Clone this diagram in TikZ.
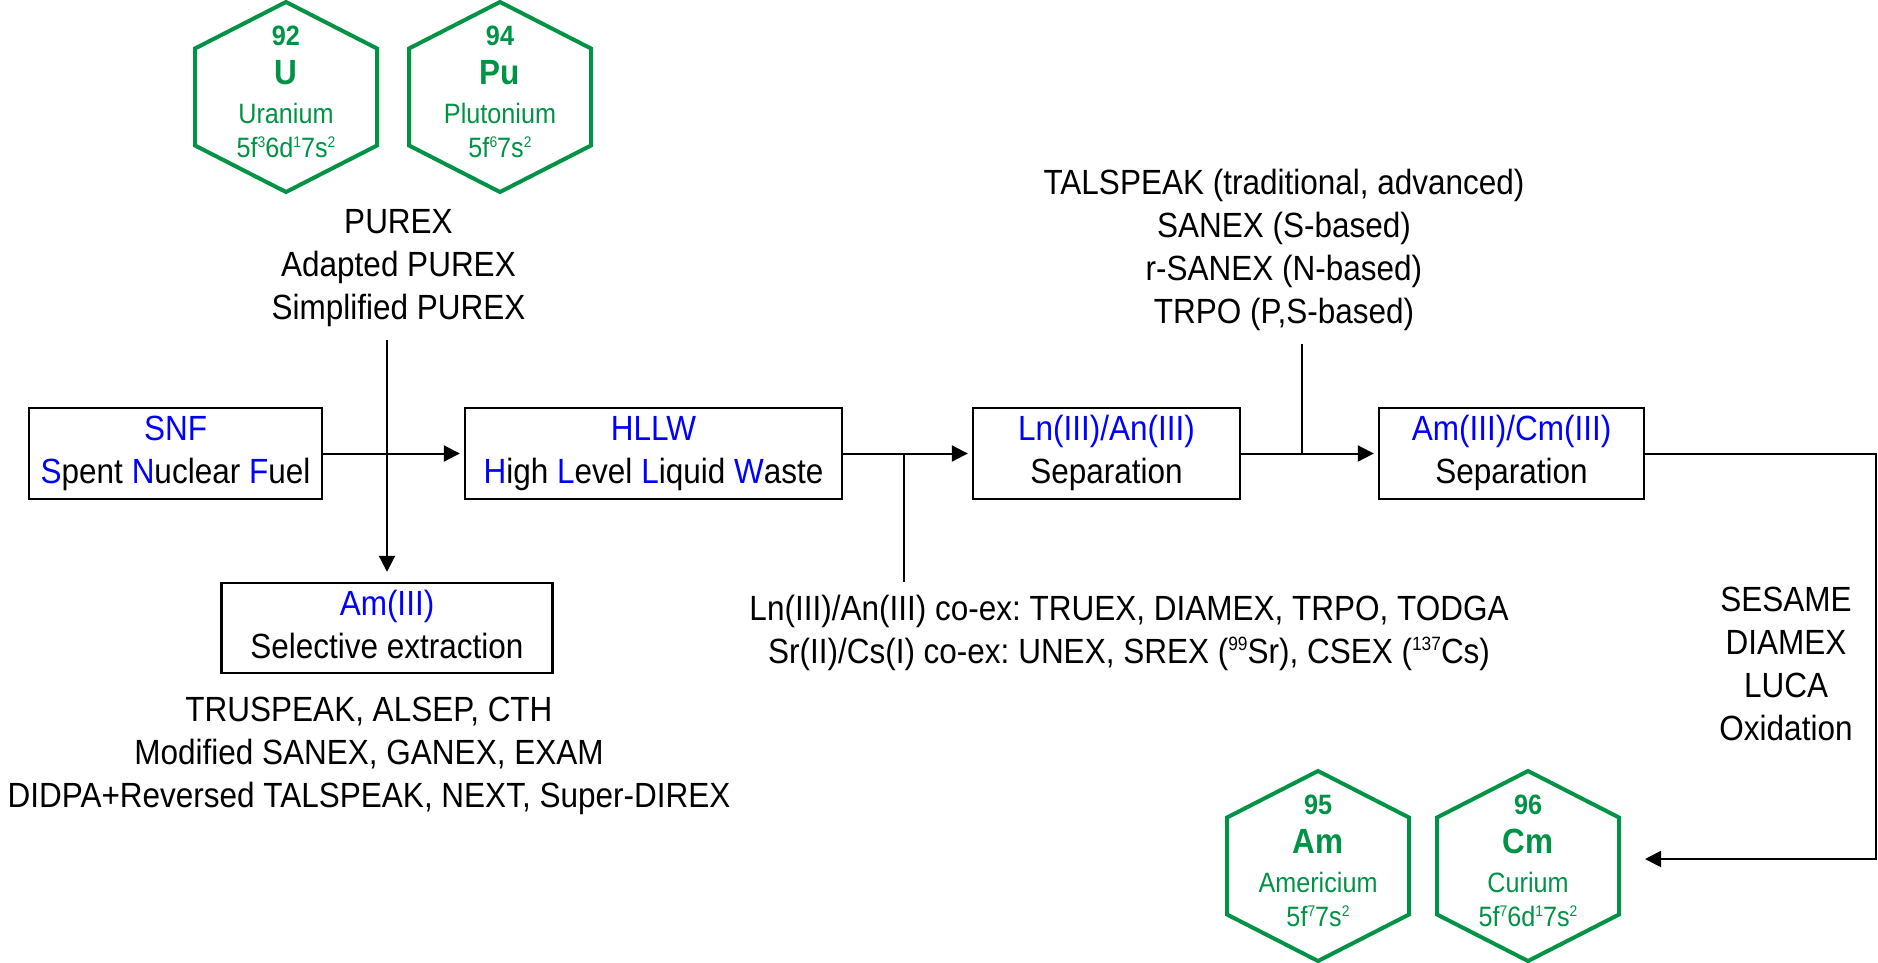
\documentclass[tikz,border=0pt]{standalone}
\usepackage{fontspec}
\setmainfont{Liberation Sans}[FakeStretch=0.9]
\usetikzlibrary{arrows.meta,positioning}
\frenchspacing

\definecolor{elemgreen}{RGB}{0,146,69}
\definecolor{abbr}{RGB}{0,0,255}

\newcommand{\ab}[1]{\textcolor{abbr}{#1}}
\newcommand{\upr}[1]{\raisebox{0.36em}{\scalebox{0.55}{#1}}}
\newcommand{\stack}[1]{\begin{tabular}{@{}c@{}}#1\end{tabular}}
\newcommand{\mainsize}{\fontsize{17.5pt}{21.5pt}\selectfont}
\newcommand{\numsize}{\fontsize{14pt}{16pt}\selectfont\bfseries}
\newcommand{\symsize}{\fontsize{17.5pt}{20pt}\selectfont\bfseries}
\newcommand{\namesize}{\fontsize{14pt}{16pt}\selectfont}

\tikzset{
   box/.style={draw, line width=1.2pt, minimum width=#1, minimum height=45.5pt, inner sep=0pt, font=\mainsize},
   note/.style={font=\mainsize, inner sep=3.5pt},
   hexline/.style={draw=elemgreen, line width=2pt},
   elem/.style={anchor=base, text=elemgreen, inner sep=0pt},
   pics/element/.style n args={4}{code={
      \draw [hexline] (0,-95) -- (91,-48.5) -- (91,48.5) -- (0,95) -- (-91,48.5) -- (-91,-48.5) -- cycle;
      \node [elem, font=\numsize] (-num) at (0,-51.5) {#1};
      \node [elem, font=\symsize] (-sym) at (0,-12.5) {#2};
      \node [elem, font=\namesize] (-name) at (0,26.5) {#3};
      \node [elem, font=\namesize] (-conf) at (0,60.5) {#4};
   }}
}

\begin{document}
\begin{tikzpicture}[x=0.5pt, y=-0.5pt, line width=1pt, >={Triangle[length=8pt,width=8pt]}]

      \def\rowy{453.5}

      \useasboundingbox (0,0) rectangle (1878,963);

      \pic (U) at (286,97) {element={92}{U}{Uranium}{5f\upr{3}6d\upr{1}7s\upr{2}}};

      \pic (Pu) at (500,97) {element={94}{Pu}{Plutonium}{5f\upr{6}7s\upr{2}}};

      \pic (Am) at (1318,866) {element={95}{Am}{Americium}{5f\upr{7}7s\upr{2}}};

      \pic (Cm) at (1528,866) {element={96}{Cm}{Curium}{5f\upr{7}6d\upr{1}7s\upr{2}}};

      \node [box=146.5pt] (snf) at (175.5,\rowy) {\stack{\ab{SNF}\\ \ab{S}pent \ab{N}uclear \ab{F}uel}};

      \node [box=188.5pt] (hllw) at (653.5,\rowy) {\stack{\ab{HLLW}\\ \ab{H}igh \ab{L}evel \ab{L}iquid \ab{W}aste}};

      \node [box=133.5pt] (lnan) at (1106.5,\rowy) {\stack{\ab{Ln(III)/An(III)}\\ Separation}};

      \node [box=132.5pt] (amcm) at (1511.5,\rowy) {\stack{\ab{Am(III)/Cm(III)}\\ Separation}};

      \node [box=165.5pt, minimum height=45pt] (amsel) at (387,628) {\stack{\ab{Am(III)}\\ Selective extraction}};

      \node [note] (purex) at (398.5,267.4) {\stack{PUREX\\ Adapted PUREX\\ Simplified PUREX}};

      \node [note] (talspeak) at (1284,250.4) {\stack{TALSPEAK (traditional, advanced)\\ SANEX (S-based)\\ r-SANEX (N-based)\\ TRPO (P,S-based)}};

      \node [note] (coex) at (1129,633.4) {\stack{Ln(III)/An(III) co-ex: TRUEX, DIAMEX, TRPO, TODGA\\ Sr(II)/Cs(I) co-ex: UNEX, SREX (\upr{99}Sr), CSEX (\upr{137}Cs)}};

      \node [note] (extr) at (369,755.9) {\stack{TRUSPEAK, ALSEP, CTH\\ Modified SANEX, GANEX, EXAM\\ DIDPA+Reversed TALSPEAK, NEXT, Super-DIREX}};

      \node [note] (sesame) at (1786,667.4) {\stack{SESAME\\ DIAMEX\\ LUCA\\ Oxidation}};

      \coordinate (rt) at (1876,\rowy);
      \coordinate (cmin) at (1645,859);

      \path (hllw.east) -- (lnan.west) coordinate [pos=0.473] (j1);
      \path (lnan.east) -- (amcm.west) coordinate [pos=0.446] (j2);

      \draw [->, shorten >=2pt] (snf) -- (hllw);

      \draw [->, shorten >=5pt] (purex.south -| amsel) -- (amsel);

      \draw [->, shorten >=2pt] (hllw) -- (lnan);

      \draw [->, shorten >=2pt] (lnan) -- (amcm);

      \draw [line width=0.8pt] (j1) -- (j1 |- coex.north);

      \draw [line width=0.8pt] (talspeak.south -| j2) -- (j2);

      \draw [->] (amcm) -- (rt) |- (cmin);

   \end{tikzpicture}
\end{document}
